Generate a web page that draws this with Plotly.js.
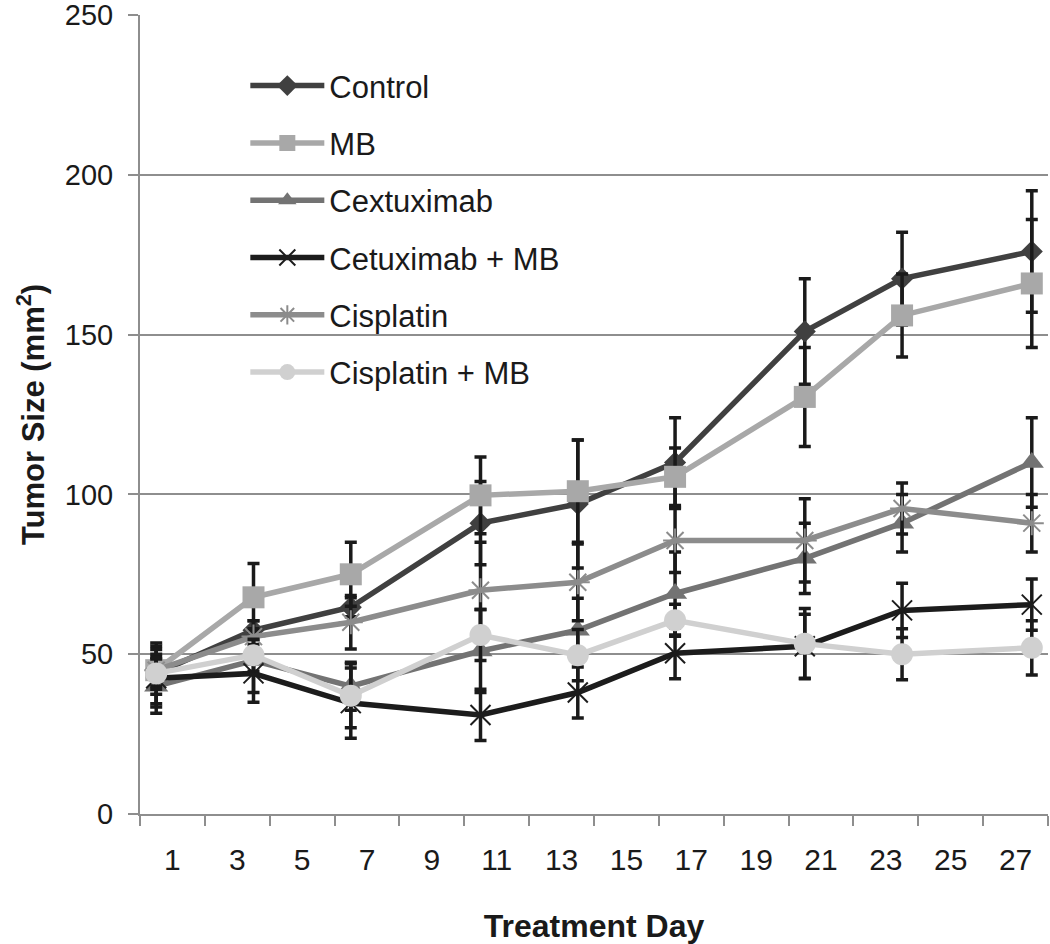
<!DOCTYPE html>
<html>
<head>
<meta charset="utf-8">
<script src="https://cdn.plot.ly/plotly-3.0.1.min.js"></script>
<style>
  body { margin: 0; background: #fff; }
  #chart { width: 1050px; height: 944px; }
</style>
</head>
<body>
<div id="chart"></div>
<script>
// measurement days
const days = [1, 4, 7, 11, 14, 17, 21, 24, 28];

// tumor size (mm2) per group, and the error bar half-lengths
const control      = [44, 57.5, 64.7, 91, 97, 110, 151, 167.5, 176];
const controlErr   = [9.5, 3, 3, 13, 20, 14, 16.5, 14.5, 19];
const mb           = [45, 67.8, 75, 99.7, 101, 105.5, 130.5, 156, 166];
const mbErr        = [7.5, 10.6, 10, 12, 16, 9, 15.5, 13, 20];
const cextux       = [40, 48, 40, 51, 57.5, 69, 80, 91, 110];
const cextuxErr    = [8.5, 10, 7.5, 13, 10, 13, 11, 9, 14];
const cetuxMb      = [42.5, 44, 34.7, 31, 38, 50.3, 52.5, 63.7, 65.5];
const cetuxMbErr   = [9, 9, 11, 8, 8, 8, 10, 8.5, 8];
const cisplatin    = [45, 55.5, 60, 70, 72.5, 85.6, 85.6, 95.6, 91];
const cisplatinErr = [5, 5, 8.4, 15, 12, 10, 13, 8, 9];
const cisMb        = [44, 49.7, 37, 56, 49.7, 60.6, 53.3, 50, 52];
const cisMbErr     = [5, 5, 10, 8, 8, 5, 11, 8, 8.5];

const seriesNames = ['Control', 'MB', 'Cextuximab', 'Cetuximab + MB', 'Cisplatin', 'Cisplatin + MB'];

// x axis labels (every second day)
const dayLabels = ['1', '3', '5', '7', '9', '11', '13', '15', '17', '19', '21', '23', '25', '27'];
const yTicks = [0, 50, 100, 150, 200, 250];

const axisGray = '#8e8e8e';
const ink = '#1a1a1a';
const font = 'Liberation Sans, Arial, sans-serif';

function series(name, y, err, color, symbol, size, open) {
  const marker = {symbol: symbol, size: size, color: color};
  if (open) {
    marker.line = {color: color, width: 2};
  }
  return {
    x: days,
    y: y,
    name: name,
    legendgroup: name,
    type: 'scatter',
    mode: 'lines+markers',
    line: {color: color, width: 5.5},
    marker: marker,
    error_y: {type: 'data', array: err, visible: true, color: ink, thickness: 3.5, width: 6},
    xaxis: 'x',
    yaxis: 'y'
  };
}

const traces = [
  series(seriesNames[0], control, controlErr, '#404040', 'diamond', 17),
  series(seriesNames[1], mb, mbErr, '#a8a8a8', 'square', 22),
  series(seriesNames[2], cextux, cextuxErr, '#737373', 'triangle-up', 21),
  series(seriesNames[3], cetuxMb, cetuxMbErr, '#1c1c1c', 'x-thin-open', 20, true),
  series(seriesNames[4], cisplatin, cisplatinErr, '#8c8c8c', 'asterisk-open', 20, true),
  series(seriesNames[5], cisMb, cisMbErr, '#d0d0d0', 'circle', 22)
];

// labels sit between the tick marks, tick marks on the category boundaries
const labelPos = dayLabels.map(d => Number(d) + 0.5);
const boundaries = dayLabels.map(d => Number(d) - 0.5).concat([Number(dayLabels[dayLabels.length - 1]) + 1.5]);
const xRange = [boundaries[0], boundaries[boundaries.length - 1]];

// invisible helper trace so the label axis gets drawn
traces.push({
  x: xRange, y: [0, 0], xaxis: 'x2', yaxis: 'y',
  type: 'scatter', mode: 'none', showlegend: false, hoverinfo: 'skip'
});

const layout = {
  width: 1050,
  height: 944,
  margin: {l: 140, r: 2, t: 15, b: 130},
  paper_bgcolor: '#fff',
  plot_bgcolor: '#fff',
  font: {family: font, size: 30, color: ink},
  showlegend: true,
  legend: {
    x: 0.116, y: 0.945, xanchor: 'left', yanchor: 'top',
    bgcolor: 'rgba(0,0,0,0)',
    font: {family: font, size: 31, color: ink},
    traceorder: 'grouped',
    tracegroupgap: 14,
    itemwidth: 74
  },
  xaxis: {
    range: xRange,
    tickmode: 'array',
    tickvals: boundaries,
    showticklabels: false,
    ticks: 'outside',
    ticklen: 10,
    tickwidth: 2,
    tickcolor: axisGray,
    showline: true,
    linecolor: axisGray,
    linewidth: 2,
    showgrid: false,
    zeroline: false,
    fixedrange: true
  },
  xaxis2: {
    overlaying: 'x',
    side: 'bottom',
    anchor: 'y',
    range: xRange,
    tickmode: 'array',
    tickvals: labelPos,
    ticktext: dayLabels,
    ticks: '',
    ticklabelstandoff: 25,
    tickfont: {family: font, size: 30, color: ink},
    showline: false,
    showgrid: false,
    zeroline: false,
    title: {text: '<b>Treatment Day</b>', font: {family: font, size: 32, color: ink}, standoff: 40}
  },
  yaxis: {
    range: [0, 250],
    tickmode: 'array',
    tickvals: yTicks,
    ticks: 'outside',
    ticklen: 10,
    tickwidth: 2,
    tickcolor: axisGray,
    ticklabelstandoff: 9,
    ticklabeloverflow: 'allow',
    tickfont: {family: font, size: 29, color: ink},
    showline: true,
    linecolor: axisGray,
    linewidth: 2,
    showgrid: true,
    gridcolor: axisGray,
    gridwidth: 2,
    zeroline: false,
    title: {text: '<b>Tumor Size (mm<sup>2</sup>)</b>', font: {family: font, size: 31, color: ink}, standoff: 11}
  }
};

Plotly.newPlot('chart', traces, layout, {displayModeBar: false, staticPlot: true});
</script>
</body>
</html>
